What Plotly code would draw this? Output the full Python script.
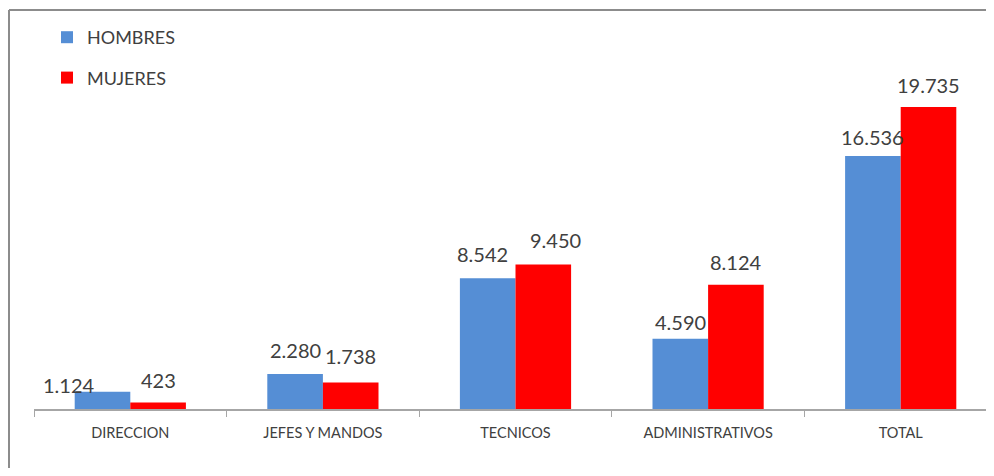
import plotly.graph_objects as go

categories = ["DIRECCION", "JEFES Y MANDOS", "TECNICOS", "ADMINISTRATIVOS", "TOTAL"]
hombres = [1124, 2280, 8542, 4590, 16536]
mujeres = [423, 1738, 9450, 8124, 19735]

# label style offsets (pixels)
h_dx = [-34, 0, -5, 0, 0]
h_dy = [7, 24, 24, 17, 19]
m_dx = [0, 0, 12, 0, 0]
m_dy = [23, 26, 24, 23, 22]

OFF = 8                      # page body margin in the browser
W, H = 994 - 2 * OFF, 476 - 2 * OFF
AX_L, AX_Y, TOP = 34, 409, 20   # screen coords
L = AX_L - OFF
B = H - (AX_Y - OFF)
T = TOP - OFF
R = 0
BLUE = "#558ED5"
RED = "#FF0000"
TXT = "#404040"
FONT = "Lato, Open Sans, sans-serif"

def fmt(v):
    return f"{v:,}".replace(",", ".")

fig = go.Figure()
fig.add_bar(x=categories, y=hombres, name="HOMBRES", marker_color=BLUE,
            marker_line_width=0, legendgroup="h", offsetgroup="h")
fig.add_bar(x=categories, y=mujeres, name="MUJERES", marker_color=RED,
            marker_line_width=0, legendgroup="m", offsetgroup="m")

plot_w = W - L - R
plot_h = H - T - B
cat_px = 192.6
span = plot_w / cat_px
bargap = 1 - 111.2 / cat_px
bar_px = (1 - bargap) * cat_px / 2

for i, c in enumerate(categories):
    fig.add_annotation(x=c, y=hombres[i], text=fmt(hombres[i]), showarrow=False,
                       xshift=-bar_px / 2 + h_dx[i], yshift=h_dy[i], yanchor="middle",
                       font=dict(size=20, color=TXT, family=FONT))
    fig.add_annotation(x=c, y=mujeres[i], text=fmt(mujeres[i]), showarrow=False,
                       xshift=bar_px / 2 + m_dx[i], yshift=m_dy[i], yanchor="middle",
                       font=dict(size=20, color=TXT, family=FONT))

ymax = plot_h * 19735 / 302

def px_x(s):  # screen x -> paper
    return (s - OFF - L) / plot_w
def px_y(s):  # screen y -> paper
    return (H - B - (s - OFF)) / plot_h

# outer frame (top and left edges visible)
frame = dict(color="#8C8C8C", width=2)
fig.add_shape(type="line", xref="paper", yref="paper",
              x0=px_x(9), x1=px_x(1000), y0=px_y(10), y1=px_y(10), line=frame, layer="below")
fig.add_shape(type="line", xref="paper", yref="paper",
              x0=px_x(9), x1=px_x(9), y0=px_y(10), y1=px_y(480), line=frame, layer="below")

fig.update_layout(
    width=W, height=H,
    margin=dict(l=L, r=R, t=T, b=B, autoexpand=False),
    paper_bgcolor="white", plot_bgcolor="white",
    barmode="group", bargap=bargap, bargroupgap=0,
    font=dict(family=FONT, color=TXT),
    showlegend=True,
    legend=dict(x=px_x(47), y=px_y(19), xanchor="left", yanchor="top",
                bgcolor="rgba(0,0,0,0)", tracegroupgap=14,
                font=dict(size=18, color=TXT), itemwidth=30),
)
fig.update_xaxes(range=[-0.5, -0.5 + span], showline=True, linecolor="#A6A6A6", linewidth=1.5,
                 ticks="outside", tickson="boundaries", ticklen=6, tickcolor="#A6A6A6",
                 tickfont=dict(size=14.5, color=TXT), ticklabelstandoff=10,
                 showgrid=False, zeroline=False, fixedrange=True)
fig.update_yaxes(range=[0, ymax], visible=False, showgrid=False, zeroline=False, fixedrange=True)

fig.write_html("out.html")
